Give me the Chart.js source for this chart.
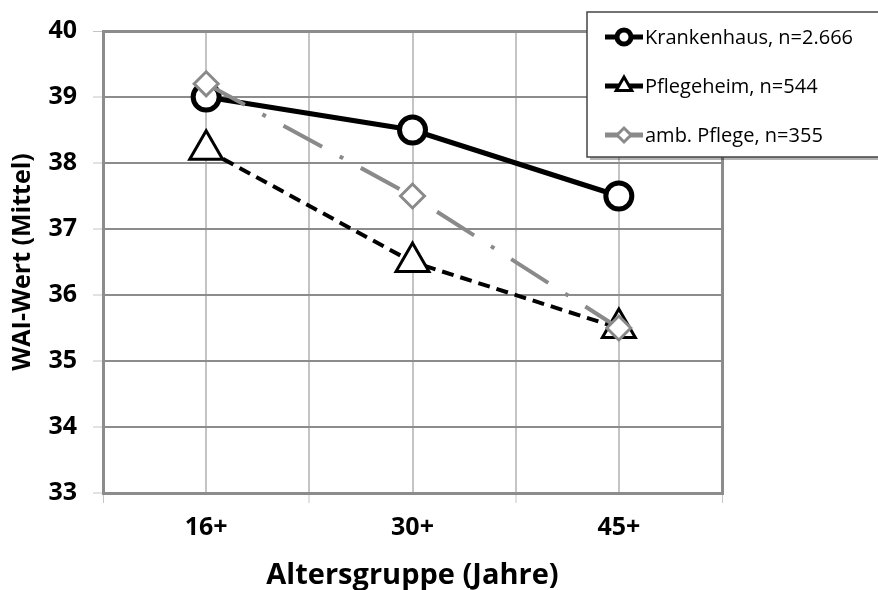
<!DOCTYPE html>
<html>
<head>
<meta charset="utf-8">
<script src="https://cdn.jsdelivr.net/npm/chart.js@4.4.1/dist/chart.umd.min.js"></script>
<style>
  html, body { margin: 0; padding: 0; background: #fff; }
  #wrap { width: 878px; height: 590px; }
</style>
</head>
<body>
<div id="wrap"><canvas id="chart"></canvas></div>
<script>
// Data
var categories = ['16+', '30+', '45+'];
var krankenhaus = [39.0, 38.5, 37.5];
var pflegeheim = [38.2, 36.5, 35.5];
var ambPflege = [39.2, 37.5, 35.5];
var seriesLabels = ['Krankenhaus, n=2.666', 'Pflegeheim, n=544', 'amb. Pflege, n=355'];
var yTicks = [33, 34, 35, 36, 37, 38, 39, 40];

var FONT = '"Open Sans", Lato, sans-serif';

function toPoints(values) {
  return values.map(function (v, i) { return {x: i, y: v}; });
}

// legend box drawn inside the canvas, top right
var boxLegend = {
  id: 'boxLegend',
  afterDraw: function (chart) {
    var ctx = chart.ctx;
    var x0 = 587, y0 = 12, w = 292, h = 145;
    var legendSizes = [7, 9, 7];
    ctx.save();
    ctx.fillStyle = 'rgba(0,0,0,0.3)';
    ctx.fillRect(x0 + 3, y0 + 3, w, h);
    ctx.fillStyle = '#fff';
    ctx.fillRect(x0, y0, w, h);
    ctx.strokeStyle = '#444';
    ctx.lineWidth = 1.5;
    ctx.strokeRect(x0, y0, w, h);
    chart.data.datasets.forEach(function (ds, i) {
      var y = 37 + i * 49;
      ctx.beginPath();
      ctx.setLineDash([]);
      ctx.strokeStyle = ds.borderColor;
      ctx.lineWidth = 5;
      ctx.moveTo(605, y);
      ctx.lineTo(643, y);
      ctx.stroke();
      ctx.fillStyle = '#fff';
      ctx.strokeStyle = ds.borderColor;
      ctx.lineWidth = ds.pointBorderWidth;
      Chart.helpers.drawPoint(ctx, {
        pointStyle: ds.pointStyle,
        radius: legendSizes[i],
        borderWidth: ds.pointBorderWidth,
        rotation: 0
      }, 624, y);
      ctx.fillStyle = '#000';
      ctx.font = '20px ' + FONT;
      ctx.textBaseline = 'middle';
      ctx.textAlign = 'left';
      ctx.fillText(ds.label, 645, y + 1);
    });
    ctx.restore();
  }
};

new Chart(document.getElementById('chart'), {
  type: 'line',
  data: {
    datasets: [{
      label: seriesLabels[0],
      data: toPoints(krankenhaus),
      order: 2,
      borderColor: '#000',
      borderWidth: 5,
      pointStyle: 'circle',
      pointRadius: 13,
      pointBorderWidth: 5,
      pointBackgroundColor: '#fff',
      pointBorderColor: '#000'
    }, {
      label: seriesLabels[1],
      data: toPoints(pflegeheim),
      order: 1,
      borderColor: '#000',
      borderWidth: 4,
      borderDash: [12, 7],
      pointStyle: 'triangle',
      pointRadius: 19,
      pointBorderWidth: 3,
      pointBackgroundColor: '#fff',
      pointBorderColor: '#000'
    }, {
      label: seriesLabels[2],
      data: toPoints(ambPflege),
      order: 0,
      borderColor: '#8a8a8a',
      borderWidth: 4,
      borderDash: [44, 20, 4, 20],
      pointStyle: 'rectRot',
      pointRadius: 12,
      pointBorderWidth: 3,
      pointBackgroundColor: '#fff',
      pointBorderColor: '#8a8a8a'
    }]
  },
  options: {
    responsive: true,
    maintainAspectRatio: false,
    animation: false,
    layout: { padding: { top: 27, right: 156, bottom: 0, left: 0 } },
    plugins: {
      legend: { display: false },
      tooltip: { enabled: false }
    },
    scales: {
      x: {
        type: 'linear',
        min: -0.5,
        max: 2.5,
        afterBuildTicks: function (axis) {
          var t = [];
          for (var v = -0.5; v <= 2.5; v += 0.5) t.push({value: v});
          axis.ticks = t;
        },
        afterFit: function (axis) { axis.height = 97; },
        ticks: {
          autoSkip: false,
          maxRotation: 0,
          padding: 10,
          color: '#000',
          font: { family: FONT, size: 25, weight: 'bold' },
          callback: function (v) {
            return Number.isInteger(v) ? categories[v] : '';
          }
        },
        grid: {
          color: function (c) {
            var v = c.tick ? c.tick.value : 0;
            return (v === -0.5 || v === 2.5) ? '#8c8c8c' : '#c4c4c4';
          },
          lineWidth: function (c) {
            var v = c.tick ? c.tick.value : 0;
            return (v === -0.5 || v === 2.5) ? 3 : 2;
          },
          tickLength: 10,
          tickColor: function (c) {
            return Number.isInteger(c.tick.value) ? 'rgba(0,0,0,0)' : '#c4c4c4';
          },
          tickWidth: 1
        },
        border: { color: '#8c8c8c', width: 3 },
        title: {
          display: true,
          text: 'Altersgruppe (Jahre)',
          color: '#000',
          font: { family: FONT, size: 29, weight: 'bold', lineHeight: 1.0 },
          padding: { top: 0, bottom: 0 }
        }
      },
      y: {
        min: 33,
        max: 40,
        afterBuildTicks: function (axis) {
          axis.ticks = yTicks.map(function (v) { return {value: v}; });
        },
        afterFit: function (axis) { axis.width = 103; },
        ticks: {
          padding: 16,
          color: '#000',
          font: { family: FONT, size: 25, weight: 'bold' }
        },
        grid: {
          color: '#8c8c8c',
          lineWidth: function (c) { return c.tick && c.tick.value === 40 ? 3 : 2; },
          tickLength: 10,
          tickColor: '#c4c4c4',
          tickWidth: 1
        },
        border: { color: '#8c8c8c', width: 3 },
        title: {
          display: true,
          text: 'WAI-Wert (Mittel)',
          color: '#000',
          font: { family: FONT, size: 25, weight: 'bold' },
          padding: { top: 8, bottom: 0 }
        }
      }
    }
  },
  plugins: [boxLegend]
});
</script>
</body>
</html>
